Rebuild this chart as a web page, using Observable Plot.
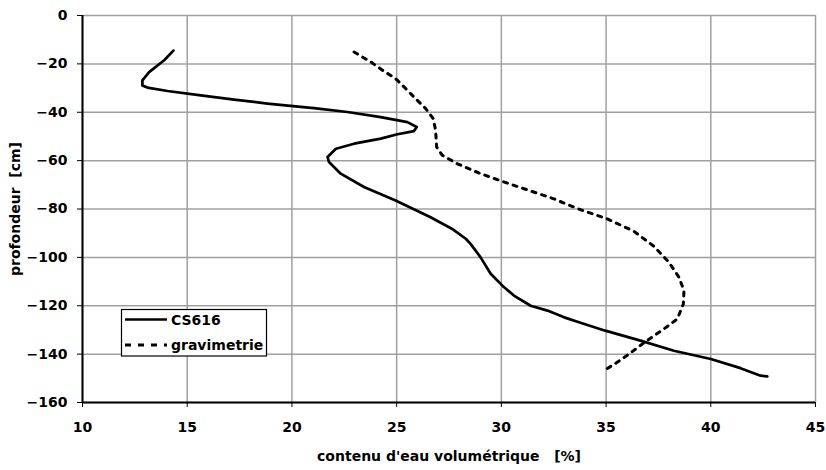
<!DOCTYPE html>
<html><head><meta charset="utf-8">
<script src="https://cdn.jsdelivr.net/npm/d3@7"></script>
<script src="https://cdn.jsdelivr.net/npm/@observablehq/plot@0.6"></script>
<style>body{margin:0;background:#fff} #chart svg{display:block}</style>
</head><body><div id="chart"></div>
<script>
const seriesNames = ["CS616", "gravimetrie"];
const cs616X = [14.34,13.9,13.18,12.86,12.86,13.1,14.06,15.65,17.24,18.83,20.42,21.05,22.65,24.24,25.51,25.96,25.83,25.04,24.24,22.97,22.1,21.7,21.77,22.33,23.44,24.95,26.62,27.7,28.3,28.53,29.01,29.49,30.05,30.6,31.4,32.2,33.0,33.78,34.96,36.64,38.24,40.0,41.42,42.38,42.7];
const cs616Y = [-14.5,-18.5,-23.4,-26.8,-28.9,-29.8,-31.2,-33.0,-34.8,-36.4,-37.8,-38.3,-39.9,-42.0,-44.1,-46.1,-47.8,-49.1,-50.9,-53.0,-55.1,-58.5,-60.6,-65.4,-70.9,-76.5,-83.4,-88.5,-92.3,-94.4,-100.0,-106.8,-111.7,-115.8,-120.0,-122.0,-124.8,-127.0,-130.3,-134.4,-138.6,-142.0,-145.8,-148.9,-149.2];
const gravX = [22.97,23.76,24.32,24.95,25.43,25.99,26.39,26.75,26.86,26.91,27.18,27.9,29.01,30.29,31.72,32.51,33.15,33.78,35.06,36.33,37.29,38.0,38.48,38.72,38.69,38.4,37.76,36.73,36.09,35.53,34.89];
const gravY = [-15.1,-19.2,-22.6,-26.1,-30.2,-35.1,-38.5,-42.7,-47.5,-54.4,-57.8,-61.3,-65.4,-69.3,-73.5,-75.8,-78.1,-80.3,-84.1,-89.2,-95.5,-102.0,-108.2,-113.7,-119.3,-125.5,-129.6,-135.8,-140.0,-143.4,-146.9];
const xTicks = [10,15,20,25,30,35,40,45];
const yTicks = [0,-20,-40,-60,-80,-100,-120,-140,-160];
const xTitle = "contenu d'eau volumétrique\u00a0\u00a0 [%]";
const yTitle = "profondeur\u00a0 [cm]";

const cs616 = cs616X.map((x, i) => ({x, y: cs616Y[i]}));
const grav = gravX.map((x, i) => ({x, y: gravY[i]}));
const FONT = "'DejaVu Sans', sans-serif";

const chart = Plot.plot({
  width: 826, height: 470,
  marginLeft: 82, marginRight: 11, marginTop: 15, marginBottom: 68,
  style: {fontFamily: FONT, fontSize: "14px", fontWeight: "bold", background: "#fff", color: "#000"},
  x: {domain: [10, 45]},
  y: {domain: [-160, 0]},
  marks: [
    Plot.gridX(xTicks, {stroke: "#a0a0a0", strokeOpacity: 1, strokeWidth: 1.5}),
    Plot.gridY(yTicks, {stroke: "#a0a0a0", strokeOpacity: 1, strokeWidth: 1.5}),
    Plot.axisX(xTicks, {tickSize: 5, tickPadding: 15, fontSize: 14, fontWeight: "bold",
      label: xTitle, labelAnchor: "center", labelOffset: 58, labelArrow: "none"}),
    Plot.axisY(yTicks, {tickSize: 5, tickPadding: 10, fontSize: 14, fontWeight: "bold",
      label: yTitle, labelAnchor: "center", labelOffset: 72, labelArrow: "none"}),
    Plot.ruleX([10], {stroke: "#000", strokeWidth: 2}),
    Plot.ruleY([-160], {stroke: "#000", strokeWidth: 2}),
    Plot.line(cs616, {x: "x", y: "y", stroke: "#000", strokeWidth: 2.7}),
    Plot.line(grav, {x: "x", y: "y", stroke: "#000", strokeWidth: 3, strokeDasharray: "4,6"})
  ]
});
document.getElementById("chart").appendChild(chart);

// legend
const svg = d3.select(chart);
const lg = svg.append("g");
lg.append("rect").attr("x", 121.5).attr("y", 309.5).attr("width", 145).attr("height", 46.5)
  .attr("fill", "#fff").attr("stroke", "#000").attr("stroke-width", 1.2);
const styles = [{dash: "none", w: 2.7}, {dash: "6,7", w: 3}];
seriesNames.forEach((name, i) => {
  const yy = 319.5 + i * 25.5;
  lg.append("path").attr("d", `M125,${yy}H167`)
    .attr("fill", "none").attr("stroke", "#000").attr("stroke-width", styles[i].w)
    .style("stroke-dasharray", styles[i].dash);
  lg.append("text").attr("x", 171).attr("y", yy + 5).text(name)
    .attr("text-anchor", "start")
    .style("font-family", FONT).style("font-size", "14px").style("font-weight", "bold");
});
</script>
</body></html>
